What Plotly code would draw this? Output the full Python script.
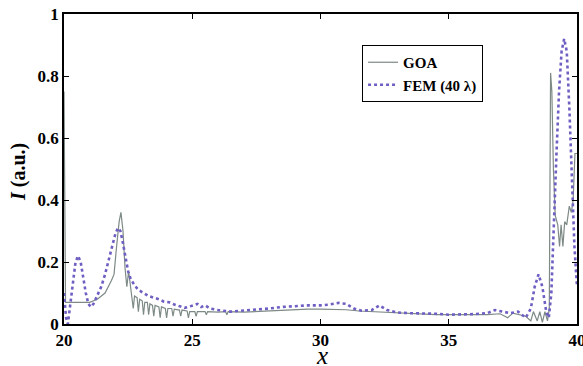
import plotly.graph_objects as go

goa_x = [20.00, 20.03, 20.06, 20.5, 21.0, 21.3, 21.6, 21.85, 21.95, 22.05, 22.15, 22.22, 22.30, 22.38,
         22.45, 22.52, 22.58, 22.65, 22.70, 22.75, 22.85, 22.90, 22.95, 23.05, 23.10, 23.15, 23.25,
         23.30, 23.35, 23.45, 23.50, 23.55, 23.70, 23.75, 23.80, 23.95, 24.00, 24.05, 24.20, 24.25,
         24.30, 24.50, 24.55, 24.60, 24.80, 24.85, 24.90, 25.10, 25.15, 25.20, 25.5, 25.55, 25.6,
         26.0, 26.3, 26.35, 26.4, 27.0, 27.5, 28.0, 28.5, 29.0, 29.5, 30.0, 30.5, 31.0, 31.5, 32.0,
         32.5, 33.0, 33.5, 34.0, 34.5, 35.0, 35.5, 36.0, 36.5, 37.0, 37.3, 37.5, 37.8, 38.0, 38.2,
         38.3, 38.45, 38.55, 38.65, 38.75, 38.85, 38.92, 38.97, 39.02, 39.08, 39.15, 39.25, 39.32,
         39.38, 39.45, 39.52, 39.60, 39.70, 39.78, 39.85, 39.92, 40.0]
goa_y = [0.75, 0.30, 0.07, 0.07, 0.07, 0.08, 0.10, 0.14, 0.16, 0.25, 0.33, 0.36, 0.30, 0.18,
         0.12, 0.17, 0.13, 0.10, 0.05, 0.09, 0.085, 0.04, 0.08, 0.075, 0.03, 0.07, 0.07,
         0.03, 0.065, 0.06, 0.025, 0.06, 0.055, 0.02, 0.055, 0.05, 0.02, 0.05, 0.05, 0.025,
         0.048, 0.045, 0.025, 0.045, 0.042, 0.02, 0.04, 0.04, 0.025, 0.04, 0.04, 0.03, 0.04,
         0.038, 0.04, 0.03, 0.04, 0.038, 0.04, 0.042, 0.045, 0.047, 0.048, 0.048, 0.048, 0.046, 0.042, 0.04,
         0.038, 0.035, 0.033, 0.032, 0.03, 0.03, 0.03, 0.028, 0.03, 0.033, 0.02, 0.035, 0.03, 0.025, 0.01,
         0.04, 0.01, 0.04, 0.005, 0.04, 0.01, 0.05, 0.81, 0.75, 0.50, 0.35, 0.32, 0.25,
         0.32, 0.25, 0.33, 0.32, 0.38, 0.36, 0.40, 0.55, 0.55]

fem_x = [20.00, 20.08, 20.15, 20.25, 20.35, 20.45, 20.55, 20.65, 20.75, 20.85, 20.95, 21.05, 21.15,
         21.3, 21.45, 21.6, 21.75, 21.9, 22.0, 22.1, 22.2, 22.3, 22.4, 22.5, 22.6, 22.75, 22.9, 23.1,
         23.3, 23.5, 23.7, 23.9, 24.1, 24.3, 24.5, 24.7, 24.85, 25.0, 25.2, 25.35, 25.5, 25.7, 26.0,
         26.5, 27.0, 27.5, 28.0, 28.5, 29.0, 29.5, 30.0, 30.3, 30.7, 31.0, 31.3, 31.6, 32.0, 32.3,
         32.6, 33.0, 33.5, 34.0, 34.5, 35.0, 35.5, 36.0, 36.5, 36.8, 37.1, 37.4, 37.7, 38.0, 38.2,
         38.35, 38.5, 38.65, 38.8, 38.9, 39.0, 39.1, 39.2, 39.3, 39.4, 39.5, 39.6, 39.7, 39.8, 39.9, 40.0]
fem_y = [0.10, 0.02, 0.00, 0.07, 0.15, 0.20, 0.22, 0.20, 0.15, 0.10, 0.065, 0.055, 0.065,
         0.09, 0.12, 0.16, 0.21, 0.26, 0.29, 0.31, 0.30, 0.26, 0.21, 0.17, 0.145, 0.125, 0.11, 0.10,
         0.09, 0.085, 0.08, 0.072, 0.07, 0.063, 0.058, 0.052, 0.055, 0.06, 0.065, 0.055, 0.06, 0.05, 0.045,
         0.04, 0.043, 0.045, 0.05, 0.055, 0.058, 0.06, 0.06, 0.062, 0.068, 0.065, 0.05, 0.043, 0.045, 0.06,
         0.045, 0.037, 0.035, 0.035, 0.033, 0.03, 0.03, 0.032, 0.035, 0.045, 0.04, 0.035, 0.04, 0.02, 0.05,
         0.12, 0.16, 0.12, 0.04, 0.02, 0.10, 0.35, 0.55, 0.75, 0.88, 0.92, 0.88, 0.70, 0.45, 0.25, 0.12]

x_ticks = [20, 25, 30, 35, 40]
y_ticks = [0, 0.2, 0.4, 0.6, 0.8, 1]
y_tick_text = ["0", "0.2", "0.4", "0.6", "0.8", "1"]

serif = "Liberation Serif, Times New Roman, serif"

fig = go.Figure()
fig.add_trace(go.Scatter(x=goa_x, y=goa_y, mode="lines", name="<b>GOA</b>",
                         line=dict(color="#7d8a86", width=1.2)))
fig.add_trace(go.Scatter(x=fem_x, y=fem_y, mode="lines", name="<b>FEM (40 λ)</b>",
                         line=dict(color="#6f5fc2", width=2.6, dash="dot")))

axis_common = dict(showline=True, linecolor="black", linewidth=1.5, mirror="ticks",
                   ticks="inside", ticklen=5, tickcolor="black", showgrid=False, zeroline=False,
                   ticklabeloverflow="allow", automargin=False,
                   tickfont=dict(family=serif, size=17, color="black"))
fig.update_xaxes(range=[20, 40], tickvals=x_ticks, ticktext=[f"<b>{v}</b>" for v in x_ticks],
                 ticklabelstandoff=0, **axis_common)
fig.update_yaxes(range=[0, 1], tickvals=y_ticks, ticktext=[f"<b>{t}</b>" for t in y_tick_text], **axis_common)

fig.update_layout(
    width=583, height=366,
    margin=dict(l=64, r=6, t=14, b=42),
    plot_bgcolor="white", paper_bgcolor="white",
    showlegend=True,
    legend=dict(x=0.581, y=0.9, xanchor="left", yanchor="top",
                bordercolor="black", borderwidth=1, bgcolor="white",
                font=dict(family=serif, size=15, color="black"),
                tracegroupgap=0, itemwidth=30),
    annotations=[
        dict(text="<b><i>I</i> (a.u.)</b>", x=(18 - 64) / 513, y=(324 - 172) / 310,
             xref="paper", yref="paper", xanchor="center", yanchor="middle",
             showarrow=False, textangle=-90, font=dict(family=serif, size=20, color="black")),
        dict(text="<i>x</i>", x=(322 - 64) / 513, y=-(340 - 324) / 310, xref="paper", yref="paper",
             yanchor="top", showarrow=False, font=dict(family=serif, size=25, color="black")),
    ],
)
fig.write_html("out.html", config={"displayModeBar": False},
               post_script="document.body.style.margin='0';document.body.style.padding='0';")
